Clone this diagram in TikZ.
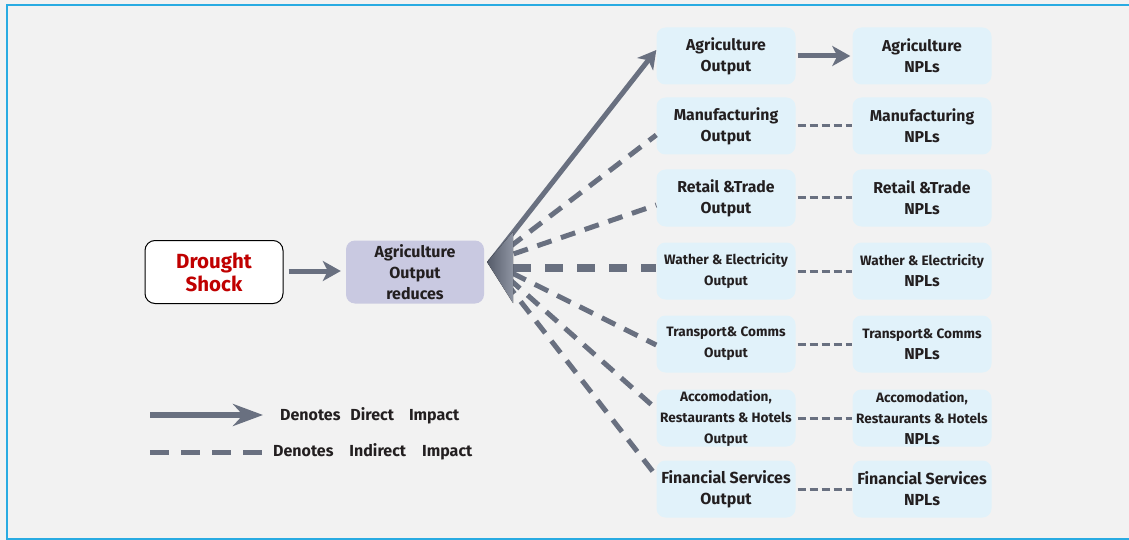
\documentclass[tikz,border=0pt]{standalone}
\usepackage{fontspec}
\setmainfont{Fira Sans}
\usetikzlibrary{arrows.meta,calc}
\definecolor{bg}{HTML}{F2F2F2}
\definecolor{framec}{HTML}{29ABE2}
\definecolor{boxblue}{HTML}{E1F2FA}
\definecolor{lav}{HTML}{C9C9E1}
\definecolor{arr}{HTML}{697080}
\definecolor{arrdark}{HTML}{555B69}
\definecolor{arrlight}{HTML}{8E94A2}
\definecolor{dred}{HTML}{C00000}
\definecolor{txt}{HTML}{231F20}
\begin{document}
\begin{tikzpicture}[x=1pt,y=-1pt,
  sbox/.style={rounded corners=9pt, fill=boxblue, minimum width=139pt, minimum height=57pt,
    align=center, font=\bfseries\fontsize{15.8}{21}\selectfont, text=txt, inner sep=0pt},
  smallfont/.style={font=\bfseries\fontsize{13.6}{21}\selectfont},
  direct/.style={draw=arr, line width=5pt, -{Stealth[length=18pt,width=20pt,inset=5pt]}},
  fandash/.style={draw=arr, line width=5pt, dash pattern=on 15pt off 10pt},
  middash/.style={draw=arr, line width=8pt, dash pattern=on 18pt off 14pt},
  npldash/.style={draw=arr, line width=3pt, dash pattern=on 8pt off 4pt},
  legtext/.style={font=\bfseries\fontsize{16}{18}\selectfont, text=txt, anchor=west, inner sep=0pt}
]
\fill[bg] (0,0) rectangle (1129,540);
\useasboundingbox (0,0) rectangle (1129,540);
\begin{scope}
\clip (0,0) rectangle (1129,540);
\draw[framec, line width=2pt] (7,5) rectangle (1150,539);
\end{scope}

% left nodes
\node[draw=black, line width=1pt, fill=white, rounded corners=10pt, minimum width=138pt, minimum height=63pt,
  align=center, inner sep=0pt, text=dred, font=\bfseries\fontsize{20.5}{23}\selectfont] (ds) at (214,272) {Drought\\Shock};
\node[fill=lav, rounded corners=9pt, minimum width=138pt, minimum height=63pt, align=center, inner sep=0pt,
  text=txt, font=\bfseries\fontsize{16}{21}\selectfont] (aor) at (415,272) {Agriculture\\Output\\reduces};

% output boxes
\node[sbox] (o1) at (726,56) {Agriculture\\Output};
\node[sbox] (o2) at (726,126) {Manufacturing\\Output};
\node[sbox] (o3) at (726,198) {Retail \&Trade\\Output};
\node[sbox, smallfont] (o4) at (726,271) {Wather \& Electricity\\Output};
\node[sbox, smallfont] (o5) at (726,344) {Transport\& Comms\\Output};
\node[sbox, smallfont] (o6) at (726,418) {Accomodation,\\Restaurants \& Hotels\\Output};
\node[sbox, font=\bfseries\fontsize{16}{21}\selectfont] (o7) at (726,489) {Financial Services\\Output};

% NPL boxes
\node[sbox] (n1) at (922,56) {Agriculture\\NPLs};
\node[sbox] (n2) at (922,126) {Manufacturing\\NPLs};
\node[sbox] (n3) at (922,198) {Retail \&Trade\\NPLs};
\node[sbox] (n4) at (922,271) {{\fontsize{13.6}{21}\selectfont Wather \& Electricity}\\NPLs};
\node[sbox] (n5) at (922,344) {{\fontsize{13.6}{21}\selectfont Transport\& Comms}\\NPLs};
\node[sbox] (n6) at (922,418) {{\fontsize{13.6}{21}\selectfont Accomodation,}\\{\fontsize{13.6}{21}\selectfont Restaurants \& Hotels}\\NPLs};
\node[sbox, font=\bfseries\fontsize{16}{21}\selectfont] (n7) at (922,489) {Financial Services\\NPLs};

% fan
\coordinate (fan) at (490,262);
\draw[direct] (ds.east) ++(5,-1) coordinate (dsa) -- ($(aor.west)+(-5,-1)$);
\draw[direct] (fan) -- ($(o1.west)+(0,-6)$);
\draw[fandash] (fan) -- ($(o2.west)+(0,9)$);
\draw[fandash] (fan) -- ($(o3.west)+(0,7)$);
\draw[middash] (513,268) -- ($(o4.west)+(0,-3)$);
\draw[fandash] (fan) -- ($(o5.west)+(0,1)$);
\draw[fandash] (fan) -- ($(o6.west)+(0,-9)$);
\draw[fandash] (fan) -- ($(o7.west)+(0,-13)$);
\fill[left color=arrdark, right color=arrlight] (487,262) -- (513,232) -- (513,303) -- cycle;

% output to NPL
\draw[direct] ($(o1.east)+(2,0)$) -- ($(n1.west)+(-2,0)$);
\foreach \i in {2,...,7} {
  \draw[npldash] ($(o\i.east)+(2,0)$) -- (n\i.west);
}

% legend
\coordinate (l1a) at (150,415);
\coordinate (l1b) at (263,415);
\coordinate (l2a) at (150,452);
\coordinate (l2b) at (263,452);
\draw[draw=arr, line width=6pt, -{Stealth[length=30pt,width=22pt,inset=10pt]}] (l1a) -- (l1b);
\draw[draw=arr, line width=5pt, dash pattern=on 19pt off 12pt] (l2a) -- (l2b);
\node[legtext] (lt1) at (280,416) {Denotes\hspace{10pt}Direct\hspace{15pt}Impact};
\node[legtext] (lt2) at (273,452) {Denotes\hspace{16pt}Indirect\hspace{16pt}Impact};
\end{tikzpicture}
\end{document}
